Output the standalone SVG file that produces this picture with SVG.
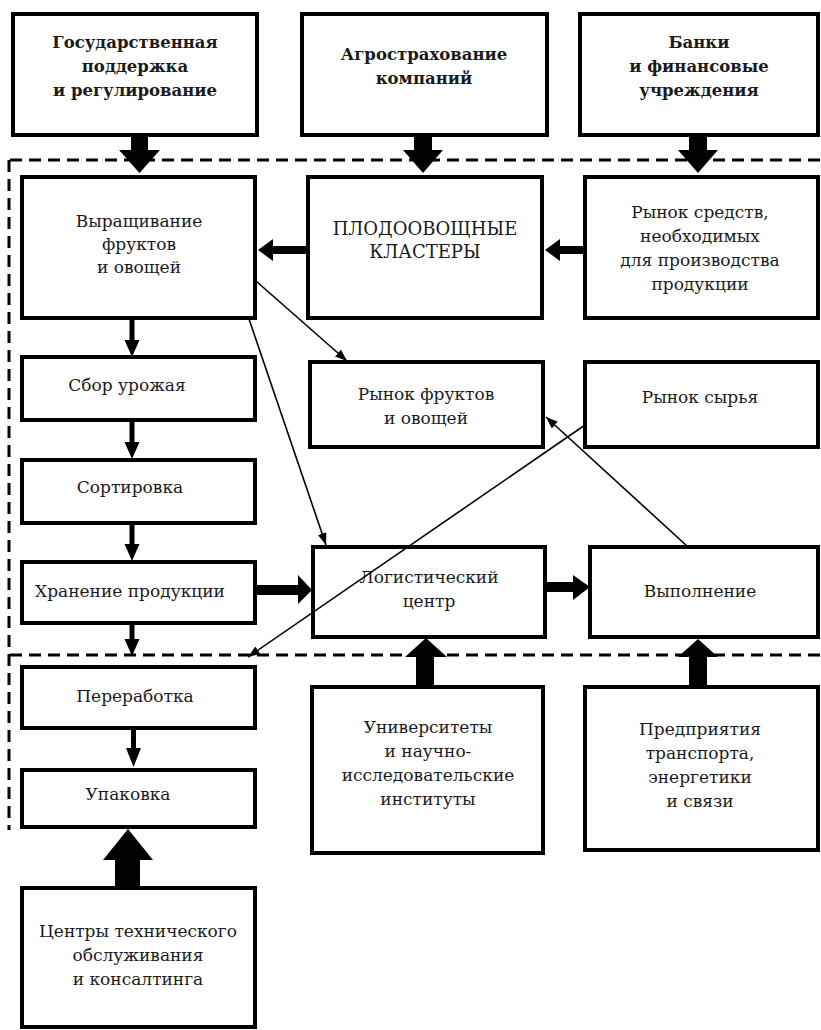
<svg xmlns="http://www.w3.org/2000/svg" width="821" height="1030" viewBox="0 0 821 1030">
<style>
.box{fill:#fff;stroke:#000;stroke-width:4}
.t{font-family:'DejaVu Serif',serif;font-size:17px;fill:#1a1a1a;text-anchor:middle}
.b{font-weight:bold;font-size:16.5px}
.dash{fill:none;stroke:#000;stroke-width:3;stroke-dasharray:12,7}
.thin{fill:none;stroke:#000;stroke-width:1.6;marker-end:url(#ah)}
.blk{fill:#000}
</style>
<defs>
<marker id="ah" markerUnits="userSpaceOnUse" markerWidth="12" markerHeight="10" refX="12" refY="4.5" orient="auto">
<path d="M0,0 L12,4.5 L0,9 z" fill="#000"/>
</marker>
</defs>
<rect width="821" height="1030" fill="#fff"/>
<g id="frame">
<path class="dash" d="M10,160 H821"/>
<path class="dash" d="M9,160 V830"/>
<path class="dash" d="M10,655 H821"/>
</g>
<g id="n-gov"><rect class="box" x="13" y="14" width="244" height="121"/><text class="t b" x="135" y="48">Государственная</text><text class="t b" x="135" y="72">поддержка</text><text class="t b" x="135" y="96">и регулирование</text></g>
<g id="n-agro"><rect class="box" x="302" y="14" width="245" height="121"/><text class="t b" x="424" y="60">Агрострахование</text><text class="t b" x="424" y="84">компаний</text></g>
<g id="n-bank"><rect class="box" x="580" y="14" width="238" height="121"/><text class="t b" x="699" y="48">Банки</text><text class="t b" x="699" y="72">и финансовые</text><text class="t b" x="699" y="96">учреждения</text></g>
<g id="n-grow"><rect class="box" x="22" y="177" width="233" height="141"/><text class="t" x="139" y="227">Выращивание</text><text class="t" x="139" y="250">фруктов</text><text class="t" x="139" y="273">и овощей</text></g>
<g id="n-cluster"><rect class="box" x="308" y="177" width="234" height="141"/><text class="t" x="425" y="235" style="font-size:18px">ПЛОДООВОЩНЫЕ</text><text class="t" x="425" y="258" style="font-size:18px">КЛАСТЕРЫ</text></g>
<g id="n-means"><rect class="box" x="585" y="177" width="233" height="141"/><text class="t" x="700" y="218">Рынок средств,</text><text class="t" x="700" y="242">необходимых</text><text class="t" x="700" y="266">для производства</text><text class="t" x="700" y="290">продукции</text></g>
<g id="n-harvest"><rect class="box" x="22" y="357" width="233" height="63"/><text class="t" x="127" y="391">Сбор урожая</text></g>
<g id="n-sort"><rect class="box" x="22" y="460" width="233" height="63"/><text class="t" x="130" y="493">Сортировка</text></g>
<g id="n-store"><rect class="box" x="22" y="562" width="233" height="61"/><text class="t" x="130" y="597">Хранение продукции</text></g>
<g id="n-proc"><rect class="box" x="22" y="667" width="233" height="61"/><text class="t" x="135" y="702">Переработка</text></g>
<g id="n-pack"><rect class="box" x="22" y="770" width="233" height="57"/><text class="t" x="128" y="800">Упаковка</text></g>
<g id="n-tech"><rect class="box" x="22" y="888" width="233" height="139"/><text class="t" x="138" y="937">Центры технического</text><text class="t" x="138" y="961">обслуживания</text><text class="t" x="138" y="985">и консалтинга</text></g>
<g id="n-fruitmkt"><rect class="box" x="310" y="362" width="233" height="85"/><text class="t" x="426" y="400">Рынок фруктов</text><text class="t" x="426" y="424">и овощей</text></g>
<g id="n-raw"><rect class="box" x="585" y="362" width="233" height="85"/><text class="t" x="700" y="403">Рынок сырья</text></g>
<g id="n-log"><rect class="box" x="313" y="547" width="232" height="90"/><text class="t" x="429" y="583">Логистический</text><text class="t" x="429" y="607">центр</text></g>
<g id="n-exec"><rect class="box" x="590" y="547" width="228" height="90"/><text class="t" x="700" y="597">Выполнение</text></g>
<g id="n-univ"><rect class="box" x="312" y="687" width="231" height="166"/><text class="t" x="428" y="733">Университеты</text><text class="t" x="428" y="757">и научно-</text><text class="t" x="428" y="781">исследовательские</text><text class="t" x="428" y="805">институты</text></g>
<g id="n-ent"><rect class="box" x="585" y="687" width="233" height="163"/><text class="t" x="700" y="735">Предприятия</text><text class="t" x="700" y="759">транспорта,</text><text class="t" x="700" y="783">энергетики</text><text class="t" x="700" y="807">и связи</text></g>
<g id="connectors">
<path class="blk" d="M131,136 H148 V150 H160 L139.5,173 L119,150 H131 Z"/>
<path class="blk" d="M414,136 H432 V150 H443 L423,173 L403,150 H414 Z"/>
<path class="blk" d="M689,136 H707 V150 H718 L698,173 L678,150 H689 Z"/>
<path class="blk" d="M306,246 H273 V239 L258,250 L273,261 V254 H306 Z"/>
<path class="blk" d="M583,246 H560 V239 L545,250 L560,261 V254 H583 Z"/>
<path class="blk" d="M257,585 H298 V575 L312,590 L298,604 V595 H257 Z"/>
<path class="blk" d="M547,582 H573 V575 L590,587 L573,600 V592 H547 Z"/>
<path class="blk" d="M416,686 H434 V657 H447 L426,638 L405,657 H416 Z"/>
<path class="blk" d="M689,686 H707 V657 H718 L698,639 L678,657 H689 Z"/>
<path class="blk" d="M115,887 H140 V860 H153 L128,829 L103,860 H115 Z"/>
<path class="blk" d="M129.5,320 H134.5 V340 H139.5 L132,357 L124.5,340 H129.5 Z"/>
<path class="blk" d="M129.5,422 H134.5 V442 H139.5 L132,459 L124.5,442 H129.5 Z"/>
<path class="blk" d="M129.5,525 H134.5 V544 H139.5 L132,561 L124.5,544 H129.5 Z"/>
<path class="blk" d="M129.5,625 H134.5 V639 H139.5 L132,656 L124.5,639 H129.5 Z"/>
<path class="blk" d="M131,730 H136 V748 H141 L133.5,767 L126,748 H131 Z"/>
<path class="thin" d="M256,281 L347,361"/>
<path class="thin" d="M249,319 L326,545"/>
<path class="thin" d="M585,425 L248,657"/>
<path class="thin" d="M687,546 L546,417"/>
</g>
</svg>
